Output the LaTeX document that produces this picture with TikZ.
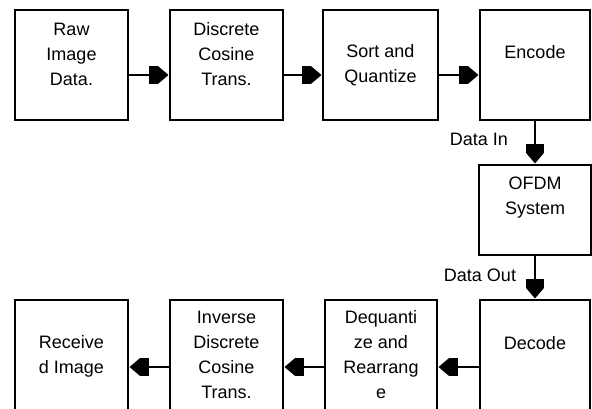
\documentclass[tikz,border=0pt]{standalone}
\usepackage{fontspec}
\setmainfont{Liberation Sans}
\usetikzlibrary{arrows.meta}
\begin{document}
\begin{tikzpicture}[x=0.75pt,y=-0.75pt,
  box/.style={draw,line width=2.2pt,inner sep=0pt,minimum width=#1},
  lbl/.style={align=center,font=\fontsize{13.5}{18.75}\selectfont,inner sep=0pt},
  conn/.style={line width=2pt,-{Rectangle[length=7pt,width=13pt,sep=0pt]Triangle[length=8pt,width=13pt]}}]
\useasboundingbox (0,0) rectangle (592,409);
\clip (0,0) rectangle (592,409);
% top row
\node[box=113*0.75pt,minimum height=110*0.75pt] (raw) at (71.5,65) {};
\node[box=113*0.75pt,minimum height=110*0.75pt] (dct) at (226.5,65) {};
\node[box=115*0.75pt,minimum height=110*0.75pt] (sort) at (380.5,65) {};
\node[box=110*0.75pt,minimum height=110*0.75pt] (enc) at (535,65) {};
% middle
\node[box=112*0.75pt,minimum height=90*0.75pt] (ofdm) at (535,210) {};
% bottom row
\node[box=113*0.75pt,minimum height=130*0.75pt] (rec) at (71.5,365) {};
\node[box=113*0.75pt,minimum height=130*0.75pt] (idct) at (226.5,365) {};
\node[box=112*0.75pt,minimum height=130*0.75pt] (deq) at (381,365) {};
\node[box=110*0.75pt,minimum height=130*0.75pt] (dec) at (535,365) {};
% texts
\node[lbl] (t1) at (71.5,54) {Raw\\Image\\Data.};
\node[lbl] (t2) at (226.5,54) {Discrete\\Cosine\\Trans.};
\node[lbl] (t3) at (380.5,65) {Sort and\\Quantize};
\node[lbl] (t4) at (535,52) {Encode};
\node[lbl] (t5) at (535,198) {OFDM\\System};
\node[lbl] (t6) at (71.5,356) {Receive\\d Image};
\node[lbl] (t7) at (226.5,355) {Inverse\\Discrete\\Cosine\\Trans.};
\node[lbl] (t8) at (381,355) {Dequanti\\ze and\\Rearrang\\e};
\node[lbl] (t9) at (535,343) {Decode};
\node[lbl] (din) at (479,139) {Data In};
\node[lbl] (dout) at (480,275) {Data Out};
% connectors
\draw[conn] (raw.east |- 0,75) -- (dct.west |- 0,75);
\draw[conn] (dct.east |- 0,75) -- (sort.west |- 0,75);
\draw[conn] (sort.east |- 0,75) -- (enc.west |- 0,75);
\draw[conn] (enc.south) -- (ofdm.north);
\draw[conn] (ofdm.south) -- (dec.north);
\draw[conn] (dec.west |- 0,367) -- (deq.east |- 0,367);
\draw[conn] (deq.west |- 0,367) -- (idct.east |- 0,367);
\draw[conn] (idct.west |- 0,367) -- (rec.east |- 0,367);
\end{tikzpicture}
\end{document}
